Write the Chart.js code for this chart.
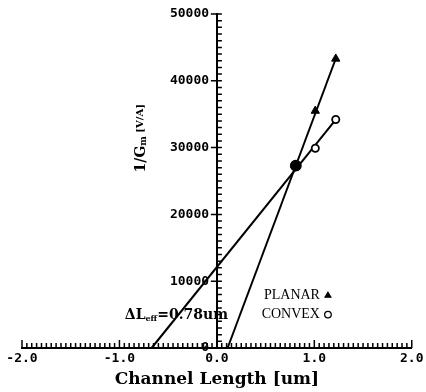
<!DOCTYPE html>
<html>
<head>
<meta charset="utf-8">
<script src="https://cdn.jsdelivr.net/npm/chart.js@4.4.0/dist/chart.umd.min.js"></script>
<style>
  body { margin: 0; background: #fff; }
  #wrap { width: 426px; height: 392px; }
</style>
</head>
<body>
<div id="wrap"><canvas id="gmChart"></canvas></div>
<script>
const lengths = [0.81, 1.01, 1.22];
const planar = [27300, 35500, 43300];
const convex = [27300, 29900, 34200];
// fitted lines, from the x-axis intercept up to the last point
const planarFitX = [0.11, 1.22];
const planarFitY = [0, 43300];
const convexFitX = [-0.67, 1.22];
const convexFitY = [0, 34200];
const xTicks = [-2, -1, 0, 1, 2];
const yTicks = [0, 10000, 20000, 30000, 40000, 50000];
const deltaL = 0.78;

const pts = (xs, ys) => xs.map((x, i) => ({ x: x, y: ys[i] }));
const first = (a, b) => ctx => ctx.dataIndex === 0 ? a : b;

const axisDecor = {
  id: 'axisDecor',
  afterDraw(chart) {
    const { ctx, scales: { x, y } } = chart;
    const x0 = x.getPixelForValue(0);
    const yb = y.getPixelForValue(0);
    ctx.save();
    ctx.strokeStyle = '#000';
    ctx.lineWidth = 1.5;
    ctx.beginPath();
    x.ticks.forEach(t => {
      const px = x.getPixelForValue(t.value);
      const len = xTicks.includes(Math.round(t.value * 100) / 100) ? 8 : 5;
      ctx.moveTo(px, yb);
      ctx.lineTo(px, yb - len);
    });
    y.ticks.forEach(t => {
      const py = y.getPixelForValue(t.value);
      const major = yTicks.includes(t.value);
      ctx.moveTo(major ? x0 - 6 : x0, py);
      ctx.lineTo(x0 + 5, py);
    });
    ctx.stroke();

    ctx.fillStyle = '#000';
    ctx.textBaseline = 'middle';

    // y title 1/Gm [V/A], rotated
    ctx.save();
    ctx.translate(x.getPixelForValue(-0.78), y.getPixelForValue(31400));
    ctx.rotate(-Math.PI / 2);
    const parts = [
      ['1/G', 'bold 14px "DejaVu Serif"', 0],
      ['m', 'bold 9px "DejaVu Serif"', 3],
      [' [V/A]', 'bold 10px "DejaVu Serif"', 0]
    ];
    let total = 0;
    parts.forEach(p => { ctx.font = p[1]; total += ctx.measureText(p[0]).width; });
    let cx = -total / 2;
    parts.forEach(p => {
      ctx.font = p[1];
      ctx.textAlign = 'left';
      ctx.fillText(p[0], cx, p[2]);
      cx += ctx.measureText(p[0]).width;
    });
    ctx.restore();

    // delta L annotation
    let ax = x.getPixelForValue(-0.945);
    const ay = y.getPixelForValue(4830);
    ctx.textAlign = 'left';
    ctx.font = 'bold 14px "DejaVu Serif"';
    ctx.fillText('\u0394L', ax, ay);
    ax += ctx.measureText('\u0394L').width;
    ctx.font = 'bold 8px "DejaVu Serif"';
    ctx.fillText('eff', ax, ay + 3);
    ax += ctx.measureText('eff').width;
    ctx.font = 'bold 14px "DejaVu Serif"';
    ctx.fillText('=' + deltaL.toFixed(2) + 'um', ax, ay);

    // legend
    const lx = x.getPixelForValue(1.14);
    const rows = [['PLANAR', 'triangle', 7850, '#000'], ['CONVEX', 'circle', 5000, '#fff']];
    ctx.font = '14px "Liberation Serif"';
    ctx.textAlign = 'right';
    rows.forEach(r => {
      const ly = y.getPixelForValue(r[2]);
      ctx.fillStyle = '#000';
      ctx.fillText(r[0], lx - 8, ly);
      ctx.fillStyle = r[3];
      ctx.strokeStyle = '#000';
      ctx.lineWidth = 1.3;
      Chart.helpers.drawPoint(ctx, { pointStyle: r[1], radius: 3.3, borderWidth: 1.3, rotation: 0 }, lx, ly);
    });
    ctx.restore();
  }
};

new Chart(document.getElementById('gmChart'), {
  type: 'scatter',
  data: {
    datasets: [
      {
        label: 'PLANAR',
        data: pts(lengths, planar),
        pointStyle: first('circle', 'triangle'),
        pointRadius: first(5, 4.8),
        backgroundColor: '#000',
        borderColor: '#000',
        borderWidth: 1,
        order: 0
      },
      {
        label: 'CONVEX',
        data: pts(lengths, convex),
        pointStyle: 'circle',
        pointRadius: first(5, 3.6),
        backgroundColor: first('#000', '#fff'),
        borderColor: '#000',
        borderWidth: 1.8,
        order: 0
      },
      {
        label: 'planar fit',
        data: pts(planarFitX, planarFitY),
        showLine: true,
        pointRadius: 0,
        borderColor: '#000',
        borderWidth: 2,
        clip: false,
        order: 1
      },
      {
        label: 'convex fit',
        data: pts(convexFitX, convexFitY),
        showLine: true,
        pointRadius: 0,
        borderColor: '#000',
        borderWidth: 2,
        clip: false,
        order: 1
      }
    ]
  },
  options: {
    responsive: true,
    maintainAspectRatio: false,
    animation: false,
    layout: { padding: { left: 22, right: 10, top: 14, bottom: 1 } },
    scales: {
      x: {
        type: 'linear',
        position: 'bottom',
        min: -2,
        max: 2,
        grid: { display: false, drawTicks: false },
        border: { display: true, color: '#000', width: 2 },
        ticks: {
          stepSize: 0.05,
          autoSkip: false,
          maxRotation: 0,
          padding: 2.5,
          color: '#000',
          font: { family: 'DejaVu Sans Mono', weight: 'bold', size: 13 },
          callback: v => xTicks.includes(Math.round(v * 100) / 100) ? v.toFixed(1) : ''
        },
        title: {
          display: true,
          text: 'Channel Length [um]',
          color: '#000',
          font: { family: 'DejaVu Serif', weight: 'bold', size: 17 },
          padding: { top: 1, bottom: 1 }
        }
      },
      y: {
        type: 'linear',
        position: { x: 0 },
        min: 0,
        max: 50000,
        grid: { display: false, drawTicks: false },
        border: { display: true, color: '#000', width: 2 },
        ticks: {
          stepSize: 1000,
          autoSkip: false,
          color: '#000',
          font: { family: 'DejaVu Sans Mono', weight: 'bold', size: 13 },
          // trailing space keeps the labels clear of the axis (padding is ignored for a centred axis)
          callback: v => yTicks.includes(v) ? v + ' ' : ''
        }
      }
    },
    plugins: {
      legend: { display: false },
      tooltip: { enabled: false }
    }
  },
  plugins: [axisDecor]
});
</script>
</body>
</html>
